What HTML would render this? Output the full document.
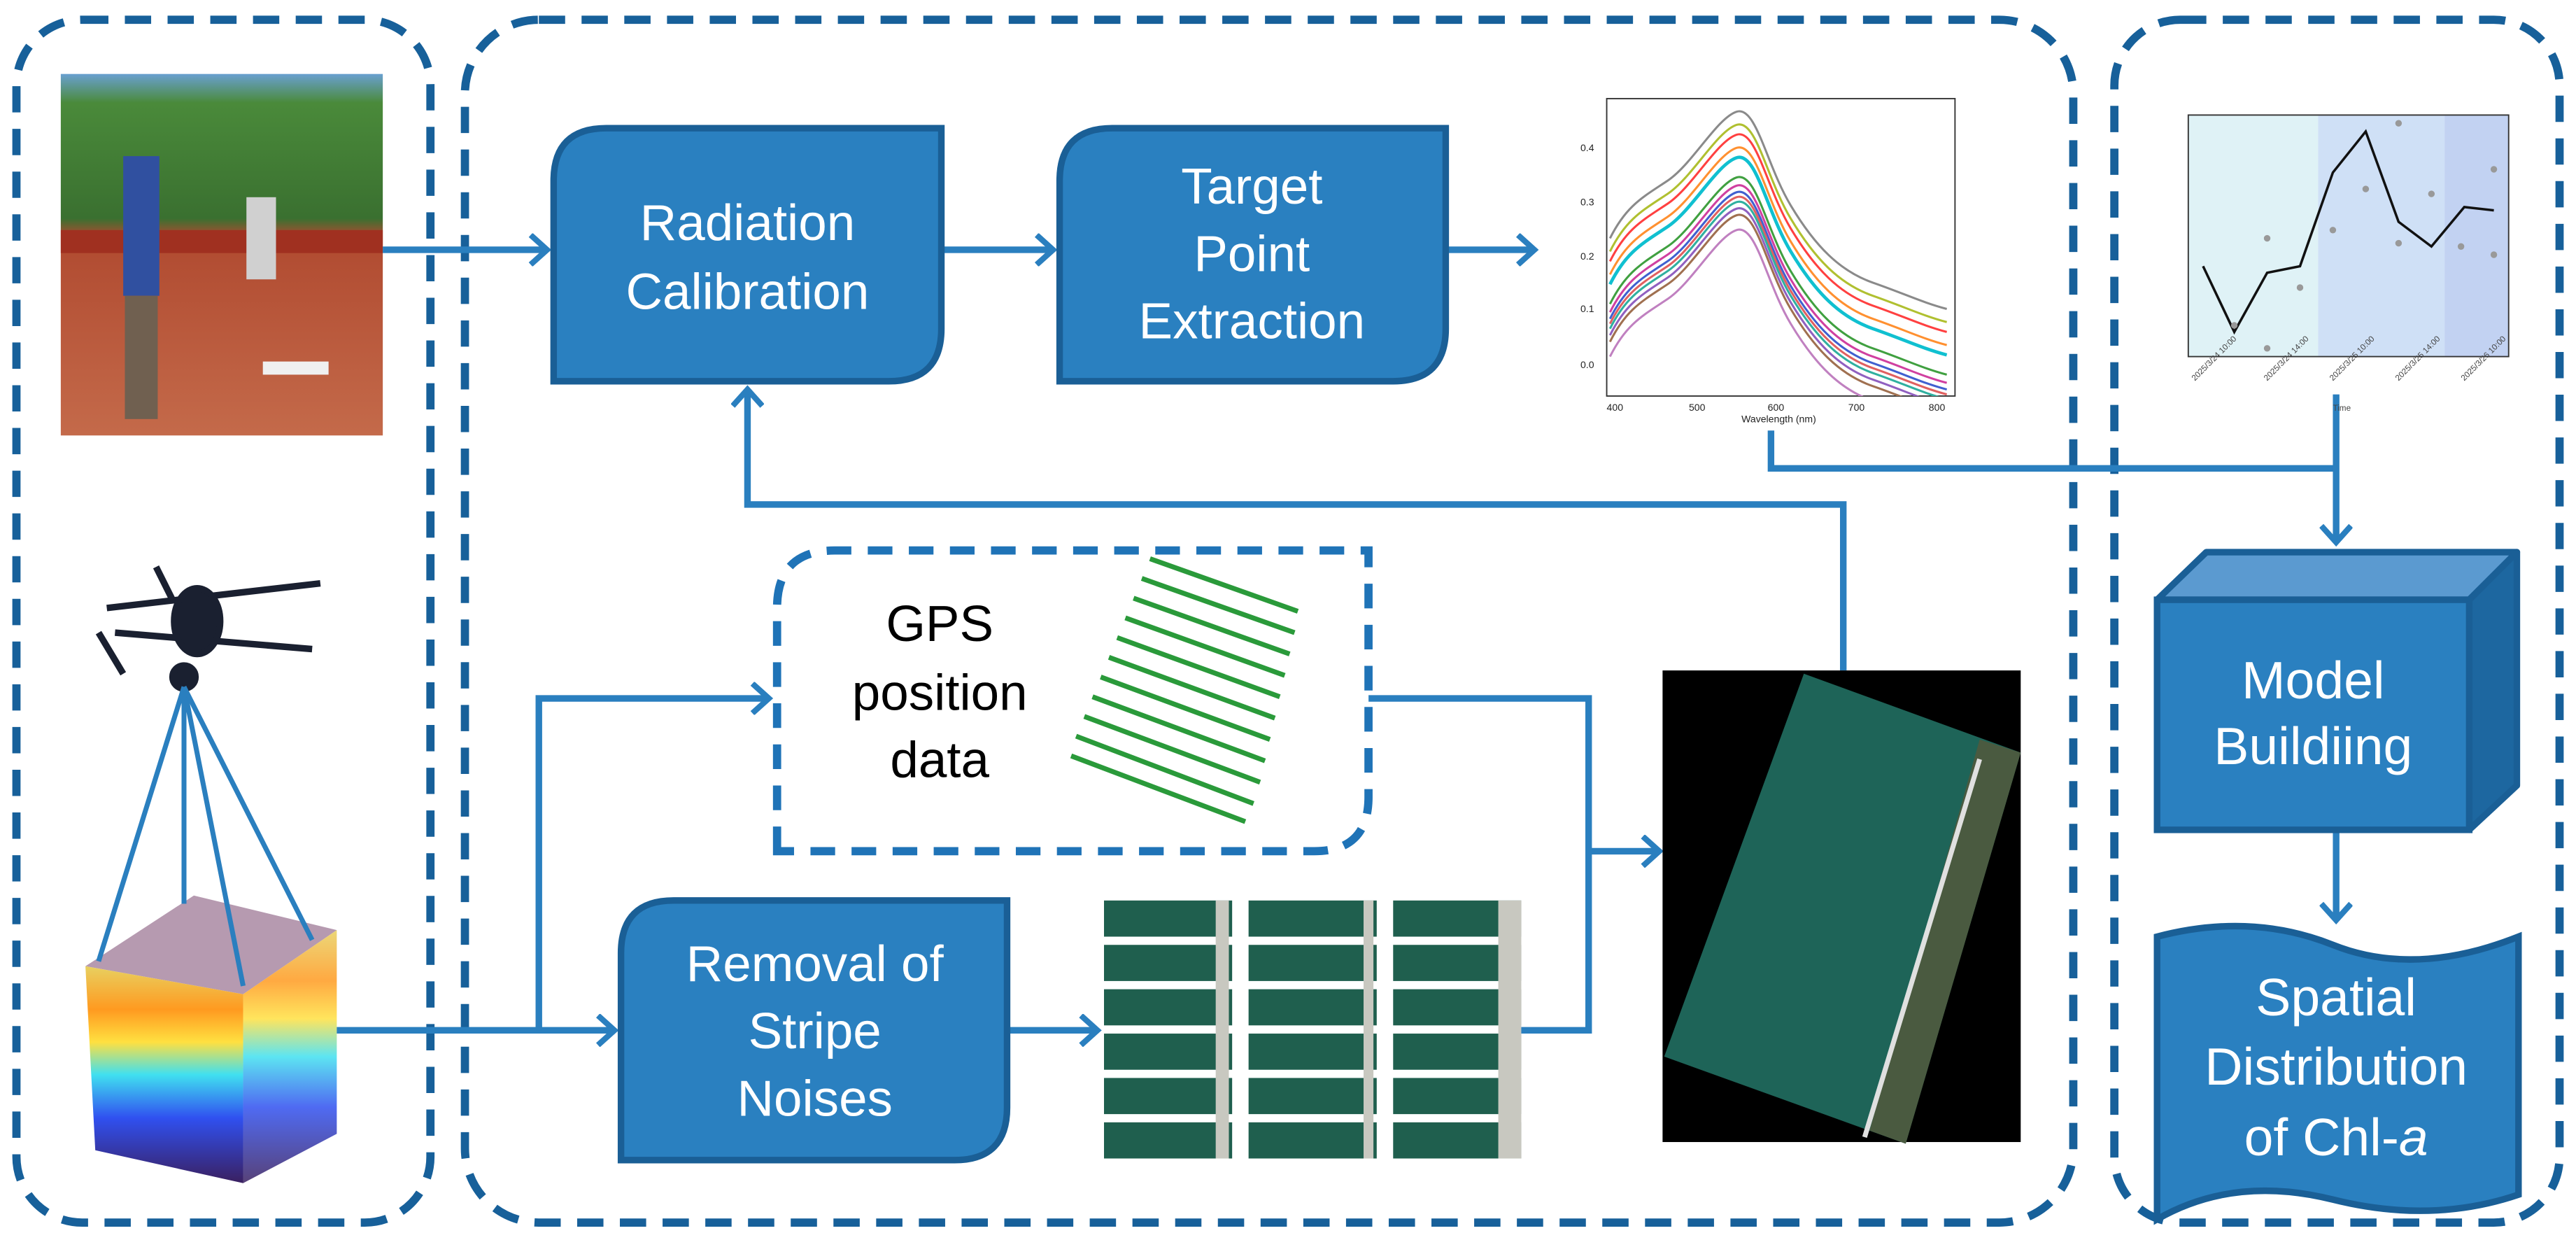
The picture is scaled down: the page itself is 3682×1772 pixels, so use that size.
<!DOCTYPE html>
<html><head><meta charset="utf-8"><style>
html,body{margin:0;padding:0;background:#fff}
svg{display:block}
text{font-family:"Liberation Sans",Arial,sans-serif}
</style></head><body>
<svg width="3682" height="1772" viewBox="0 0 1568 754.6" xmlns="http://www.w3.org/2000/svg">
<defs>
<marker id="ah" markerWidth="16" markerHeight="20" refX="12" refY="10" orient="auto" markerUnits="userSpaceOnUse">
<path d="M2,1 L12,10 L2,19" fill="none" stroke="#2a7fbf" stroke-width="3.5"/>
</marker>
<clipPath id="spc"><rect x="978" y="60" width="212" height="181"/></clipPath>
<linearGradient id="rain" x1="0" y1="0" x2="0" y2="1">
<stop offset="0" stop-color="#e8d060"/><stop offset="0.2" stop-color="#ff9a20"/><stop offset="0.35" stop-color="#ffe040"/><stop offset="0.5" stop-color="#40e0f0"/><stop offset="0.7" stop-color="#3050f0"/><stop offset="1" stop-color="#3a2060"/>
</linearGradient>
<linearGradient id="photo" x1="0" y1="0" x2="0" y2="1">
<stop offset="0" stop-color="#6aa0d0"/><stop offset="0.08" stop-color="#4a8a3a"/><stop offset="0.4" stop-color="#3a7030"/><stop offset="0.45" stop-color="#b04a30"/><stop offset="1" stop-color="#c46a4a"/>
</linearGradient>
</defs>

<g fill="none" stroke="#17609a" stroke-width="5" stroke-dasharray="16,10">
<rect x="10" y="12" width="252" height="732" rx="40"/>
<rect x="283" y="12" width="979" height="732" rx="45"/>
<rect x="1287" y="12" width="271" height="732" rx="40"/>
</g>

<!-- photo -->
<rect x="37" y="45" width="196" height="220" fill="url(#photo)"/>
<rect x="37" y="140" width="196" height="14" fill="#a03020"/>
<rect x="75" y="95" width="22" height="85" fill="#3050a0"/>
<rect x="76" y="180" width="20" height="75" fill="#706050"/>
<rect x="150" y="120" width="18" height="50" fill="#d0d0d0"/>
<rect x="160" y="220" width="40" height="8" fill="#f0f0f0"/>

<!-- drone -->
<g stroke="#1a2030" stroke-width="4" fill="#1a2030">
<line x1="65" y1="370" x2="195" y2="355"/>
<line x1="70" y1="385" x2="190" y2="395"/>
<ellipse cx="120" cy="378" rx="14" ry="20"/>
<circle cx="112" cy="412" r="7"/>
<line x1="95" y1="345" x2="105" y2="365"/>
<line x1="60" y1="385" x2="75" y2="410"/>
</g>
<polygon points="52,588 148,605 205,566 118,545" fill="#b69ab0"/>
<polygon points="52,588 148,605 148,720 58,700" fill="url(#rain)"/>
<polygon points="148,605 205,566 205,690 148,720" fill="url(#rain)" opacity="0.85"/>
<g stroke="#2a7fbf" stroke-width="3">
<line x1="112" y1="418" x2="60" y2="585"/>
<line x1="112" y1="418" x2="112" y2="550"/>
<line x1="112" y1="418" x2="148" y2="600"/>
<line x1="112" y1="418" x2="190" y2="572"/>
</g>

<g fill="none" stroke="#2a7fbf" stroke-width="4">
<line x1="233" y1="152" x2="333" y2="152" marker-end="url(#ah)"/>
<line x1="573" y1="152" x2="641" y2="152" marker-end="url(#ah)"/>
<line x1="880" y1="152" x2="934" y2="152" marker-end="url(#ah)"/>
<polyline points="1122,408 1122,307 455,307 455,237" marker-end="url(#ah)"/>
<polyline points="1078,262 1078,285 1422,285"/>
<line x1="1422" y1="240" x2="1422" y2="330" marker-end="url(#ah)"/>
<line x1="205" y1="627" x2="374" y2="627" marker-end="url(#ah)"/>
<polyline points="328,627 328,425 468,425" marker-end="url(#ah)"/>
<line x1="613" y1="627" x2="668" y2="627" marker-end="url(#ah)"/>
<polyline points="833,425 967,425 967,627 925,627"/>
<line x1="967" y1="518" x2="1010" y2="518" marker-end="url(#ah)"/>
<line x1="1422" y1="505" x2="1422" y2="560" marker-end="url(#ah)"/>
</g>

<g fill="#2a80c0" stroke="#1a5f96" stroke-width="4">
<path d="M337,232 V110 Q337,78 369,78 H573 V200 Q573,232 541,232 Z"/>
<path d="M645,232 V110 Q645,78 677,78 H880 V200 Q880,232 848,232 Z"/>
<path d="M378,706 V580 Q378,548 410,548 H613 V674 Q613,706 581,706 Z"/>
</g>
<g fill="#fff" font-size="31" text-anchor="middle">
<text x="455" y="146">Radiation</text>
<text x="455" y="188">Calibration</text>
<text x="762" y="124">Target</text>
<text x="762" y="165">Point</text>
<text x="762" y="206">Extraction</text>
<text x="496" y="597">Removal of</text>
<text x="496" y="638">Stripe</text>
<text x="496" y="679">Noises</text>
</g>

<!-- spectrum chart -->
<rect x="978" y="60" width="212" height="181" fill="none" stroke="#333" stroke-width="0.8"/>
<g fill="none" stroke-width="1.3" clip-path="url(#spc)">
<path id="sc" d="M980,185 C990,165 1000,160 1015,150 S1045,112 1057,108 S1075,140 1090,165 S1120,205 1140,212 S1170,224 1185,228"/>
<use href="#sc" stroke="#8a8a8a" transform="translate(0,-40)"/>
<use href="#sc" stroke="#b0c030" transform="translate(0,-32)"/>
<use href="#sc" stroke="#ff4040" transform="translate(0,-26)"/>
<use href="#sc" stroke="#ff9030" transform="translate(0,-18)"/>
<use href="#sc" stroke="#10c0d0" transform="translate(0,-12)" stroke-width="2"/>
<use href="#sc" stroke="#40a040" transform="translate(0,0)"/>
<use href="#sc" stroke="#d040a0" transform="translate(0,5)"/>
<use href="#sc" stroke="#4060d0" transform="translate(0,9)"/>
<use href="#sc" stroke="#e06060" transform="translate(0,12)"/>
<use href="#sc" stroke="#30b0a0" transform="translate(0,15)"/>
<use href="#sc" stroke="#9060c0" transform="translate(0,19)"/>
<use href="#sc" stroke="#a07050" transform="translate(0,23)"/>
<use href="#sc" stroke="#c080c0" transform="translate(0,32)"/>
</g>
<g font-size="6" fill="#222" font-family="Liberation Serif,serif">
<text x="962" y="92">0.4</text><text x="962" y="125">0.3</text><text x="962" y="158">0.2</text><text x="962" y="190">0.1</text><text x="962" y="224">0.0</text>
<text x="978" y="250">400</text><text x="1028" y="250">500</text><text x="1076" y="250">600</text><text x="1125" y="250">700</text><text x="1174" y="250">800</text>
<text x="1060" y="257">Wavelength (nm)</text>
</g>

<!-- timeseries chart -->
<rect x="1332" y="70" width="79" height="147" fill="#dff2f6"/>
<rect x="1411" y="70" width="77" height="147" fill="#cfe0f6"/>
<rect x="1488" y="70" width="39" height="147" fill="#c2d2f2"/>
<rect x="1332" y="70" width="195" height="147" fill="none" stroke="#333" stroke-width="0.8"/>
<polyline points="1341,162 1360,202 1380,166 1400,162 1420,105 1440,80 1460,135 1480,150 1500,126 1518,128" fill="none" stroke="#111" stroke-width="1.5"/>
<g fill="#999">
<circle cx="1360" cy="198" r="2"/><circle cx="1380" cy="212" r="2"/><circle cx="1380" cy="145" r="2"/><circle cx="1400" cy="175" r="2"/><circle cx="1420" cy="140" r="2"/><circle cx="1440" cy="115" r="2"/><circle cx="1460" cy="75" r="2"/><circle cx="1460" cy="148" r="2"/><circle cx="1480" cy="118" r="2"/><circle cx="1498" cy="150" r="2"/><circle cx="1518" cy="103" r="2"/><circle cx="1518" cy="155" r="2"/>
</g>
<g font-size="5" fill="#444" font-family="Liberation Serif,serif">
<text x="1336" y="232" transform="rotate(-45 1336 232)">2025/3/24 10:00</text>
<text x="1380" y="232" transform="rotate(-45 1380 232)">2025/3/24 14:00</text>
<text x="1420" y="232" transform="rotate(-45 1420 232)">2025/3/25 10:00</text>
<text x="1460" y="232" transform="rotate(-45 1460 232)">2025/3/25 14:00</text>
<text x="1500" y="232" transform="rotate(-45 1500 232)">2025/3/26 10:00</text>
<text x="1420" y="250">Time</text></g>

<!-- GPS box -->
<path d="M473,518 V370 Q473,335 508,335 H833 V485 Q833,518 800,518 Z" fill="#fff" stroke="#1f73b7" stroke-width="5" stroke-dasharray="15,10"/>
<g fill="#000" font-size="31" text-anchor="middle">
<text x="572" y="390">GPS</text>
<text x="572" y="432">position</text>
<text x="572" y="473">data</text>
</g>
<g stroke="#2a9a3a" stroke-width="3">
<line x1="700" y1="340" x2="790" y2="372"/><line x1="695" y1="352" x2="788" y2="385"/><line x1="690" y1="364" x2="785" y2="398"/><line x1="685" y1="376" x2="782" y2="411"/><line x1="680" y1="388" x2="779" y2="424"/><line x1="675" y1="400" x2="776" y2="437"/><line x1="670" y1="412" x2="773" y2="450"/><line x1="665" y1="424" x2="770" y2="463"/><line x1="660" y1="436" x2="767" y2="476"/><line x1="655" y1="448" x2="763" y2="489"/><line x1="652" y1="460" x2="758" y2="500"/>
</g>

<!-- stripe tiles -->
<g fill="#1f5f4e">
<rect x="672" y="548" width="78" height="22"/><rect x="760" y="548" width="78" height="22"/><rect x="848" y="548" width="78" height="22"/>
<rect x="672" y="575" width="78" height="22"/><rect x="760" y="575" width="78" height="22"/><rect x="848" y="575" width="78" height="22"/>
<rect x="672" y="602" width="78" height="22"/><rect x="760" y="602" width="78" height="22"/><rect x="848" y="602" width="78" height="22"/>
<rect x="672" y="629" width="78" height="22"/><rect x="760" y="629" width="78" height="22"/><rect x="848" y="629" width="78" height="22"/>
<rect x="672" y="656" width="78" height="22"/><rect x="760" y="656" width="78" height="22"/><rect x="848" y="656" width="78" height="22"/>
<rect x="672" y="683" width="78" height="22"/><rect x="760" y="683" width="78" height="22"/><rect x="848" y="683" width="78" height="22"/>
</g>
<g fill="#c8c8c0"><rect x="740" y="548" width="8" height="157"/><rect x="830" y="548" width="6" height="157"/><rect x="912" y="548" width="14" height="157"/></g>

<!-- mosaic -->
<rect x="1012" y="408" width="218" height="287" fill="#000"/>
<polygon points="1098,410 1230,458 1160,696 1013,643" fill="#1e6458"/>
<polygon points="1205,450 1230,458 1160,696 1138,688" fill="#4a5a40"/>
<line x1="1205" y1="462" x2="1135" y2="692" stroke="#e0e0e0" stroke-width="3"/>

<!-- Model building cube -->
<polygon points="1313,365 1343,336 1532,336 1503,365" fill="#5b9ad0" stroke="#1a5f96" stroke-width="4" stroke-linejoin="round"/>
<polygon points="1503,365 1532,336 1532,478 1503,505" fill="#1d67a0" stroke="#1a5f96" stroke-width="4" stroke-linejoin="round"/>
<rect x="1313" y="365" width="190" height="140" fill="#2a80c0" stroke="#1a5f96" stroke-width="4"/>
<g fill="#fff" font-size="32" text-anchor="middle">
<text x="1408" y="425">Model</text>
<text x="1408" y="465">Buildiing</text>
</g>

<path d="M1313,570 Q1370,555 1420,575 T1533,570 V727 Q1480,745 1420,730 T1313,742 Z" fill="#2a80c0" stroke="#1a5f96" stroke-width="4"/>
<g fill="#fff" font-size="32" text-anchor="middle">
<text x="1422" y="618">Spatial</text>
<text x="1422" y="660">Distribution</text>
<text x="1422" y="703">of Chl-<tspan font-style="italic">a</tspan></text>
</g>
</svg>
</body></html>
